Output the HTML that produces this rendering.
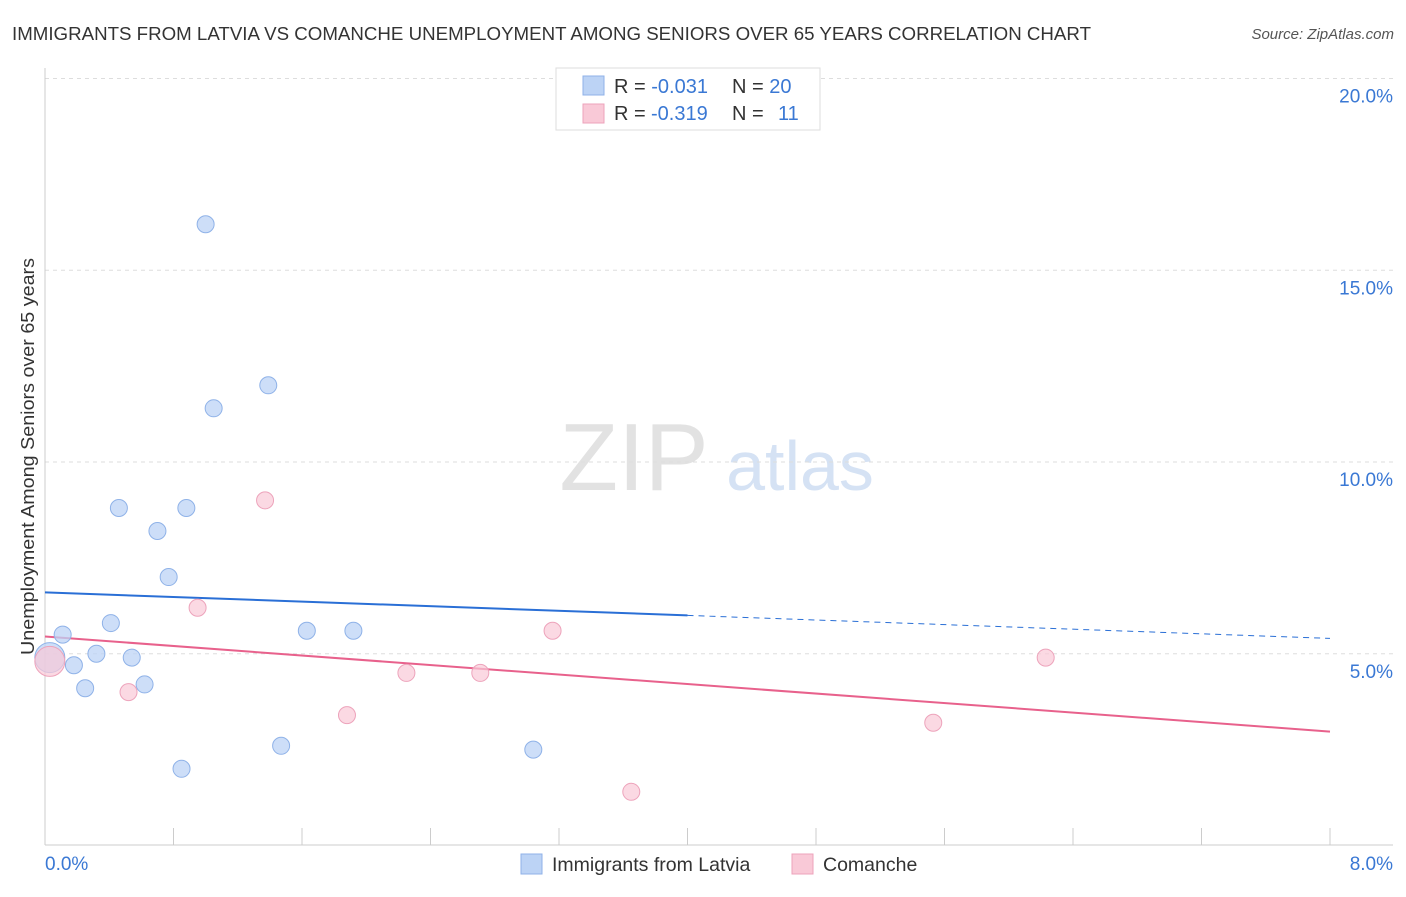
<!DOCTYPE html>
<html><head><meta charset="utf-8"><style>
body{margin:0;background:#fff;font-family:"Liberation Sans",sans-serif}
svg text{font-family:"Liberation Sans",sans-serif}
</style></head><body>
<svg id="c" width="1406" height="892" xmlns="http://www.w3.org/2000/svg">
<text x="12" y="40" font-size="18" fill="#333" textLength="1079" lengthAdjust="spacingAndGlyphs">IMMIGRANTS FROM LATVIA VS COMANCHE UNEMPLOYMENT AMONG SENIORS OVER 65 YEARS CORRELATION CHART</text>
<text x="1394" y="39" font-size="15" fill="#555" font-style="italic" text-anchor="end">Source: ZipAtlas.com</text>
<text x="634" y="490" font-size="96" fill="#e2e2e2" font-family="Liberation Serif" text-anchor="middle">ZIP</text>
<text x="800" y="490" font-size="70" fill="#d5e2f4" text-anchor="middle">atlas</text>
<g id="grid"></g><g id="axes"></g><g id="lines"></g><g id="pts"></g>
<text transform="translate(34,655) rotate(-90)" font-size="18" fill="#333" textLength="397" lengthAdjust="spacingAndGlyphs">Unemployment Among Seniors over 65 years</text>
<text x="45" y="870" font-size="19" fill="#3a78d4">0.0%</text>
<text x="1393" y="870" font-size="19" fill="#3a78d4" text-anchor="end">8.0%</text>
<g>
<rect x="556" y="68" width="264" height="62" fill="#fff" stroke="#ddd"/>
<rect x="583" y="76" width="21" height="19" fill="#bcd3f5" stroke="#8fb2e8"/>
<rect x="583" y="104" width="21" height="19" fill="#f9c9d7" stroke="#eda3bb"/>
<text x="614" y="93" font-size="20" fill="#333">R = <tspan fill="#3a78d4">-0.031</tspan><tspan x="732">N = </tspan><tspan fill="#3a78d4">20</tspan></text>
<text x="614" y="120" font-size="20" fill="#333">R = <tspan fill="#3a78d4" x="651">-0.319</tspan><tspan x="732">N = </tspan><tspan fill="#3a78d4" x="778">11</tspan></text>
</g>
<g>
<rect x="521" y="854" width="21" height="20" fill="#bcd3f5" stroke="#8fb2e8"/>
<text x="552" y="871" font-size="19.5" fill="#333">Immigrants from Latvia</text>
<rect x="792" y="854" width="21" height="20" fill="#f9c9d7" stroke="#eda3bb"/>
<text x="823" y="871" font-size="19.5" fill="#333">Comanche</text>
</g>
</svg>
<script>
const yTicks=[5,10,15,20];
const yTickLabels=["5.0%","10.0%","15.0%","20.0%"];
const blueX=[0.03,0.11,0.18,0.25,0.32,0.41,0.46,0.54,0.62,0.70,0.77,0.85,0.88,1.00,1.05,1.39,1.47,1.63,1.92,3.04];
const blueY=[4.9,5.5,4.7,4.1,5.0,5.8,8.8,4.9,4.2,8.2,7.0,2.0,8.8,16.2,11.4,12.0,2.6,5.6,5.6,2.5];
const pinkX=[0.03,0.52,0.95,1.37,1.88,2.25,2.71,3.16,3.65,5.53,6.23];
const pinkY=[4.8,4.0,6.2,9.0,3.4,4.5,4.5,5.6,1.4,3.2,4.9];
const blueLine=[6.6,5.4];
const pinkLine=[5.45,2.97];
const NS="http://www.w3.org/2000/svg";
const X=v=>45+v/8*1285, Y=v=>845.5-v*38.35;
function mk(t,a,p){const e=document.createElementNS(NS,t);for(const k in a)e.setAttribute(k,a[k]);document.getElementById(p).appendChild(e);return e;}
yTicks.forEach((t,i)=>{
 const g=mk('line',{x1:45,x2:1393,y1:Y(t),y2:Y(t),stroke:'#ddd','stroke-dasharray':'4,4'},'grid');
 
 
 const l=mk('text',{x:1393,y:Y(t)+24,'font-size':19,fill:'#3a78d4','text-anchor':'end'},'grid');
 l.textContent=yTickLabels[i];
 
 
});
const ya=mk('line',{x1:45,x2:45,y1:68,y2:845,stroke:'#ccc'},'axes');


const xa=mk('line',{x1:45,x2:1393,y1:845,y2:845,stroke:'#ccc'},'axes');


for(let i=1;i<=10;i++){const t=mk('line',{x1:X(i*0.8),x2:X(i*0.8),y1:828,y2:845,stroke:'#ccc'},'axes');
 
 }
const bs=mk('line',{x1:X(0),y1:Y(blueLine[0]),x2:X(4),y2:Y((blueLine[0]+blueLine[1])/2),stroke:'#2a6fd6','stroke-width':2},'lines');


const bd=mk('line',{x1:X(4),y1:Y((blueLine[0]+blueLine[1])/2),x2:X(8),y2:Y(blueLine[1]),stroke:'#2a6fd6','stroke-width':1,'stroke-dasharray':'6,5'},'lines');


const pl=mk('line',{x1:X(0),y1:Y(pinkLine[0]),x2:X(8),y2:Y(pinkLine[1]),stroke:'#e8618c','stroke-width':2},'lines');


blueX.forEach((x,i)=>{const c=mk('circle',{cx:X(x),cy:Y(blueY[i]),r:i==0?15:8.5,fill:'#bcd3f5','fill-opacity':0.75,stroke:'#8fb2e8'},'pts');
 
 });
pinkX.forEach((x,i)=>{const c=mk('circle',{cx:X(x),cy:Y(pinkY[i]),r:i==0?15:8.5,fill:'#f9c9d7','fill-opacity':0.7,stroke:'#eda3bb'},'pts');
 
 });
</script>
</body></html>
